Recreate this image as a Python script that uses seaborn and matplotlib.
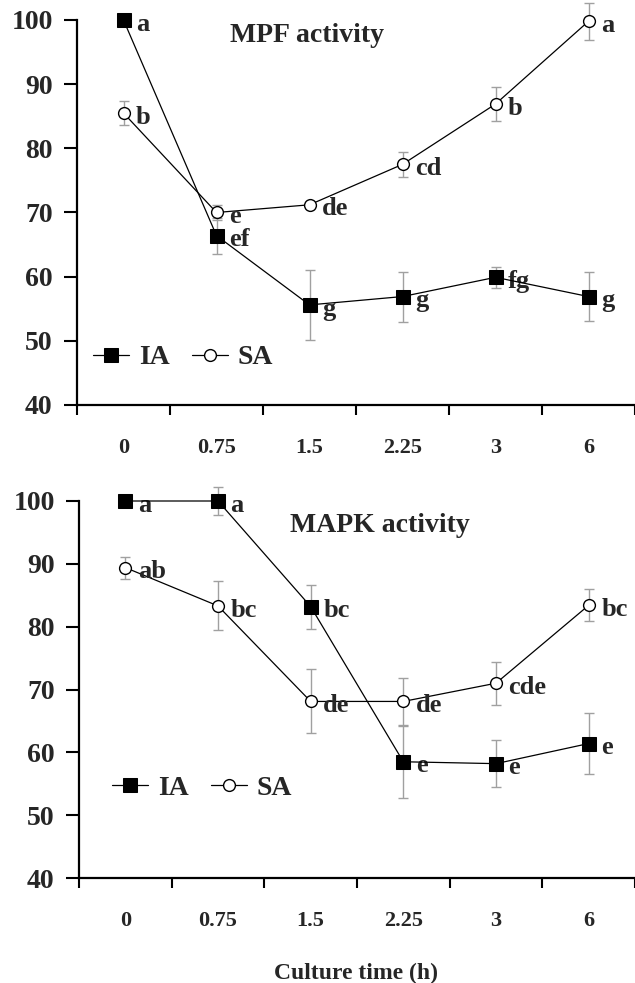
import numpy as np
import pandas as pd
import matplotlib
matplotlib.use("Agg")
import matplotlib.pyplot as plt
import seaborn as sns

# ---- data ----
times = ["0", "0.75", "1.5", "2.25", "3", "6"]

mpf_ia = [100.0, 66.4, 55.6, 56.9, 59.9, 56.9]
mpf_ia_err = [0.0, 2.8, 5.45, 3.9, 1.6, 3.75]
mpf_sa = [85.5, 70.0, 71.2, 77.5, 86.9, 99.8]
mpf_sa_err = [1.8, 1.1, 0.3, 1.95, 2.6, 2.9]
mpf_ia_letters = ["a", "ef", "g", "g", "fg", "g"]
mpf_sa_letters = ["b", "e", "de", "cd", "b", "a"]

mapk_ia = [100.0, 100.0, 83.2, 58.5, 58.2, 61.4]
mapk_ia_err = [0.0, 2.2, 3.5, 5.7, 3.75, 4.9]
mapk_sa = [89.4, 83.3, 68.1, 68.1, 71.0, 83.4]
mapk_sa_err = [1.75, 3.9, 5.1, 3.8, 3.45, 2.55]
mapk_ia_letters = ["a", "a", "bc", "e", "e", "e"]
mapk_sa_letters = ["ab", "bc", "de", "de", "cde", "bc"]

sns.set_style("ticks")
plt.rcParams["font.family"] = ["Liberation Serif", "DejaVu Serif"]
plt.rcParams["font.weight"] = "bold"

fig = plt.figure(figsize=(6.35, 9.83), dpi=100)
ax_top = fig.add_axes([77 / 635, 1 - 405 / 983, 558 / 635, 385 / 983])
ax_bot = fig.add_axes([79 / 635, 1 - 878 / 983, 556 / 635, 377 / 983])

pos = np.arange(len(times))


def draw_panel(ax, ia, ia_err, sa, sa_err, ia_let, sa_let, title, title_xy, leg_xy):
    df = pd.DataFrame({"pos": np.concatenate([pos, pos]),
                       "value": ia + sa,
                       "group": ["IA"] * len(pos) + ["SA"] * len(pos)})
    # grey error bars behind the markers
    ax.errorbar(pos, ia, yerr=ia_err, fmt="none", ecolor="#a0a0a0",
                elinewidth=1.0, capsize=3.5, capthick=1.0, zorder=1, clip_on=False)
    ax.errorbar(pos, sa, yerr=sa_err, fmt="none", ecolor="#a0a0a0",
                elinewidth=1.0, capsize=3.5, capthick=1.0, zorder=1, clip_on=False)
    sns.lineplot(data=df[df.group == "SA"], x="pos", y="value", ax=ax,
                 color="black", linewidth=0.9, marker="o", markersize=8.5,
                 markerfacecolor="white", markeredgecolor="black", markeredgewidth=1.0,
                 label="SA", legend=False, clip_on=False, zorder=3)
    sns.lineplot(data=df[df.group == "IA"], x="pos", y="value", ax=ax,
                 color="black", linewidth=0.9, marker="s", markersize=9.5,
                 markerfacecolor="black", markeredgecolor="black",
                 label="IA", legend=False, clip_on=False, zorder=4)

    for x, y, t in zip(pos, ia, ia_let):
        ax.annotate(t, (x, y), xytext=(9, -3), textcoords="offset points",
                    ha="left", va="center", fontsize=19, fontweight="bold")
    for x, y, t in zip(pos, sa, sa_let):
        ax.annotate(t, (x, y), xytext=(9, -3), textcoords="offset points",
                    ha="left", va="center", fontsize=19, fontweight="bold")

    ax.text(title_xy[0], title_xy[1], title, transform=ax.transAxes,
            ha="center", va="center", fontsize=20, fontweight="bold")

    handles, labels = ax.get_legend_handles_labels()
    order = [labels.index("IA"), labels.index("SA")]
    ax.legend([handles[i] for i in order], [labels[i] for i in order],
              loc="center left", bbox_to_anchor=leg_xy, ncol=2, frameon=False,
              handlelength=1.3, handletextpad=0.35,
              columnspacing=0.8, borderpad=0, borderaxespad=0,
              prop={"size": 20, "weight": "bold"})

    ax.set_xlim(-0.5, 5.5)
    ax.set_ylim(40, 100)
    ax.set_yticks(np.arange(40, 101, 10))
    ax.set_xticks(pos)
    ax.set_xticklabels(times)
    ax.set_xticks(np.arange(-0.5, 5.6, 1.0), minor=True)
    ax.tick_params(axis="x", which="major", length=0, pad=24, labelsize=16)
    ax.tick_params(axis="x", which="minor", length=7, width=1.5, direction="out",
                   color="black")
    ax.tick_params(axis="y", length=9.5, width=1.5, pad=8, labelsize=20,
                   color="black")
    for lab in ax.get_xticklabels() + ax.get_yticklabels():
        lab.set_fontweight("bold")
    ax.set_xlabel("")
    ax.set_ylabel("")
    sns.despine(ax=ax)
    for side in ["left", "bottom"]:
        ax.spines[side].set_linewidth(1.6)
        ax.spines[side].set_color("black")


draw_panel(ax_top, mpf_ia, mpf_ia_err, mpf_sa, mpf_sa_err,
           mpf_ia_letters, mpf_sa_letters, "MPF activity", (0.412, 0.961), (0.029, 0.123))
draw_panel(ax_bot, mapk_ia, mapk_ia_err, mapk_sa, mapk_sa_err,
           mapk_ia_letters, mapk_sa_letters, "MAPK activity", (0.541, 0.934), (0.059, 0.239))

fig.text(356 / 635, 1 - 973 / 983, "Culture time (h)", ha="center", va="center",
         fontsize=17, fontweight="bold")

fig.savefig("out.png", dpi=100)
